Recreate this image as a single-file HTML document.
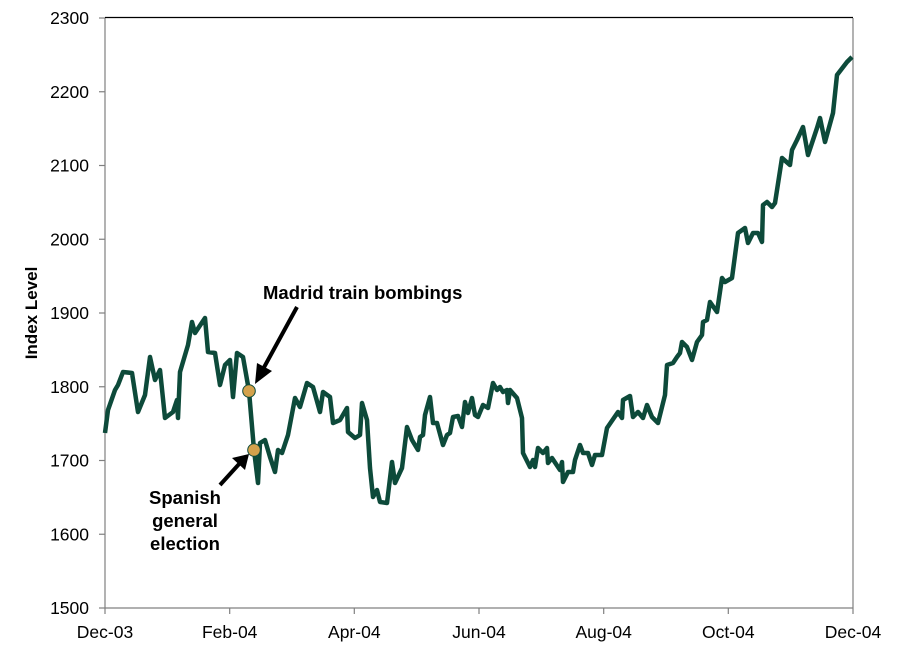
<!DOCTYPE html>
<html><head><meta charset="utf-8"><style>body{margin:0;background:#fff}svg{display:block}text{font-family:"Liberation Sans",Arial,sans-serif}</style></head><body>
<svg width="900" height="653" viewBox="0 0 900 653">
<g stroke="#808080" stroke-width="1.2" fill="none">
<line x1="105" y1="18" x2="105" y2="608"/>
<line x1="105" y1="608" x2="853" y2="608"/>
<line x1="853" y1="18" x2="853" y2="608"/>
<line x1="99" y1="18" x2="105" y2="18"/><line x1="99" y1="91.75" x2="105" y2="91.75"/><line x1="99" y1="165.5" x2="105" y2="165.5"/><line x1="99" y1="239.25" x2="105" y2="239.25"/><line x1="99" y1="313" x2="105" y2="313"/><line x1="99" y1="386.75" x2="105" y2="386.75"/><line x1="99" y1="460.5" x2="105" y2="460.5"/><line x1="99" y1="534.25" x2="105" y2="534.25"/><line x1="99" y1="608" x2="105" y2="608"/>
<line x1="105" y1="608" x2="105" y2="614"/><line x1="229.7" y1="608" x2="229.7" y2="614"/><line x1="354.3" y1="608" x2="354.3" y2="614"/><line x1="479" y1="608" x2="479" y2="614"/><line x1="603.7" y1="608" x2="603.7" y2="614"/><line x1="728.3" y1="608" x2="728.3" y2="614"/><line x1="853" y1="608" x2="853" y2="614"/>
</g>
<line x1="105" y1="17.5" x2="853" y2="17.5" stroke="#000" stroke-width="1.2"/>
<g font-size="17.5" fill="#000" text-anchor="end">
<text x="89" y="24">2300</text><text x="89" y="97.75">2200</text><text x="89" y="171.5">2100</text><text x="89" y="245.25">2000</text><text x="89" y="319">1900</text><text x="89" y="392.75">1800</text><text x="89" y="466.5">1700</text><text x="89" y="540.25">1600</text><text x="89" y="614">1500</text>
</g>
<g font-size="17.5" fill="#000" text-anchor="middle">
<text x="105" y="638">Dec-03</text><text x="229.7" y="638">Feb-04</text><text x="354.3" y="638">Apr-04</text><text x="479" y="638">Jun-04</text><text x="603.7" y="638">Aug-04</text><text x="728.3" y="638">Oct-04</text><text x="853" y="638">Dec-04</text>
</g>
<text transform="translate(37,313) rotate(-90)" font-size="17" font-weight="bold" text-anchor="middle">Index Level</text>
<polyline fill="none" stroke="#0d4a3a" stroke-width="4.5" stroke-linejoin="round" points="105,433 108,410 115,390 118,385 123,372 132,373 138,412 145,395 150,357 155,380 160,370 165,418 173,412 177,400 178,418 180,372 188,345 192,322 195,333 205,318 208,352 215,353 220,385 225,365 230,360 233,397 237,353 243,357 249,391 254,450 258,483 260,443 265,440 270,457 275,472 278,450 282,453 288,435 295,398 300,407 307,383 313,387 320,412 323,392 330,397 333,423 340,420 347,408 348,432 355,438 360,435 362,403 367,420 370,468 373,497 377,490 380,502 387,503 392,462 395,483 402,468 407,427 412,440 418,450 420,437 423,435 425,415 430,397 433,423 437,423 443,445 447,435 450,433 453,417 458,416 462,427 465,402 468,413 472,398 475,415 478,417 483,405 488,408 493,383 497,390 500,387 503,392 507,390 508,403 510,390 517,398 522,418 523,453 530,467 533,460 535,467 538,448 543,453 547,448 548,463 552,458 560,470 562,462 563,482 568,472 573,472 575,460 580,445 583,453 588,453 592,465 595,455 602,455 607,428 618,412 622,418 623,400 630,396 633,417 638,412 643,418 647,405 652,417 658,423 665,395 667,365 673,363 677,357 680,353 682,342 687,347 692,360 697,342 702,335 703,322 707,320 710,302 717,312 722,278 725,282 732,278 738,233 745,228 748,243 753,233 758,233 762,242 763,205 767,202 772,207 775,203 782,158 790,165 792,150 797,140 803,127 808,155 817,128 820,118 825,142 833,113 837,75 847,62 852,57"/>
<circle cx="249" cy="391" r="6.3" fill="#d4a24c" stroke="#0d4a3a" stroke-width="1"/>
<circle cx="254" cy="450" r="6.3" fill="#d4a24c" stroke="#0d4a3a" stroke-width="1"/>
<g stroke="#000" stroke-width="4" fill="none"><line x1="297" y1="307" x2="262" y2="371"/><line x1="220" y1="485" x2="240" y2="463"/></g>
<polygon points="255,384 257,363 272,371" fill="#000"/>
<polygon points="249,454 232,458 245,470" fill="#000"/>
<g font-size="18.5" font-weight="bold" fill="#000">
<text x="263" y="299">Madrid train bombings</text>
<text x="185" y="504" text-anchor="middle">Spanish</text>
<text x="185" y="527" text-anchor="middle">general</text>
<text x="185" y="550" text-anchor="middle">election</text>
</g>
</svg>
</body></html>
